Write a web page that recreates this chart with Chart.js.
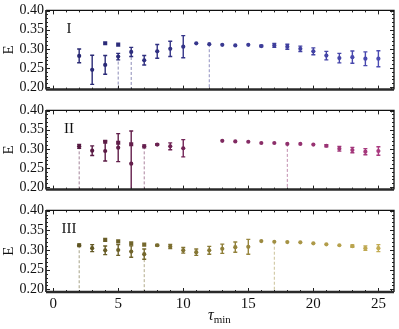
<!DOCTYPE html>
<html>
<head>
<meta charset="utf-8">
<script src="https://cdn.jsdelivr.net/npm/chart.js@4.4.1/dist/chart.umd.min.js"></script>
<style>
  html, body { margin: 0; padding: 0; background: #fff; }
  #wrap { position: relative; width: 399px; height: 329px; overflow: hidden; }
  #wrap canvas { position: absolute; left: 0; }
  #xlab { position: absolute; top: 306px; left: 208px; font-family: "Liberation Serif", serif; font-size: 16px; color: #111; white-space: nowrap; }
  #xlab i { font-style: italic; }
  #xlab sub { font-size: 11px; vertical-align: -3px; }
</style>
</head>
<body>
<div id="wrap">
  <canvas id="p1" width="399" height="100" style="top:0"></canvas>
  <canvas id="p2" width="399" height="100" style="top:100px"></canvas>
  <canvas id="p3" width="399" height="129" style="top:200px"></canvas>
  <div id="xlab"><i>τ</i><sub>min</sub></div>
</div>
<script>
// ─── DATA ──────────────────────────────────────────────────────────
const tau = [2, 3, 4, 5, 6, 7, 8, 9, 10, 11, 12, 13, 14, 15, 16, 17, 18, 19, 20, 21, 22, 23, 24, 25];
const xTicks = [0, 5, 10, 15, 20, 25];
const yTicks = [0.20, 0.25, 0.30, 0.35, 0.40];

// panel I
const eI   = [0.2815, 0.2452, 0.2581, 0.2798, 0.2919, 0.2702, 0.2935, 0.3000, 0.3056, 0.3145, 0.3121, 0.3105,
              0.3089, 0.3105, 0.3073, 0.3089, 0.3056, 0.3000, 0.2935, 0.2823, 0.2758, 0.2782, 0.2742, 0.2742];
const errI = [0.018, 0.038, 0.0246, 0.0085, 0.012, 0.0125, 0.018, 0.0198, 0.029, 0, 0, 0,
              0, 0, 0.002, 0.005, 0.0065, 0.007, 0.009, 0.011, 0.0125, 0.016, 0.018, 0.021];
const extraTauI = [4, 5];
const extraEI   = [0.3145, 0.3110];
const dashTauI  = [5, 6, 12];

// panel II
const eII   = [0.3065, 0.2952, 0.2944, 0.3032, 0.2613, 0.3065, 0.3113, 0.3065, 0.3016, null, null, 0.3210,
               0.3194, 0.3185, 0.3153, 0.3153, 0.3129, 0.3129, 0.3113, 0.3081, 0.3000, 0.2968, 0.2927, 0.2944];
const errII = [0.005, 0.0125, 0.026, 0.0367, 0.0855, 0.004, 0.002, 0.009, 0.0226, 0, 0, 0,
               0, 0, 0, 0, 0, 0, 0, 0.003, 0.006, 0.007, 0.008, 0.011];
const extraTauII = [4, 5, 6];
const extraEII   = [0.3185, 0.3161, 0.3121];
const dashTauII  = [2, 7, 18];

// panel III
const eIII   = [0.3121, 0.3048, 0.2992, 0.3000, 0.2960, 0.2895, 0.3121, 0.3089, 0.2992, 0.2944, 0.2992, 0.3032,
                0.3073, 0.3081, 0.3226, 0.3210, 0.3202, 0.3194, 0.3169, 0.3145, 0.3121, 0.3097, 0.3048, 0.3048];
const errIII = [0.003, 0.009, 0.011, 0.0137, 0.0145, 0.013, 0.002, 0.005, 0.007, 0.008, 0.010, 0.0117,
                0.013, 0.019, 0, 0, 0, 0, 0, 0, 0, 0.003, 0.0056, 0.009];
const extraTauIII = [4, 5, 6, 7];
const extraEIII   = [0.3258, 0.3218, 0.3169, 0.3137];
const dashTauIII  = [2, 7, 17];

const yMin = 0.1935, yMax = 0.4005;
const xMin = -0.55, xMax = 26.2;
const SERIF = '"Liberation Serif", "DejaVu Serif", serif';

// ─── HELPERS ──────────────────────────────────────────────────────
function shade(c0, c1, t, mix) {
    const c = c0.map((v, k) => v + (c1[k] - v) * t);
    const m = mix || 0;
    return 'rgb(' + c.map(v => Math.round(v + (255 - v) * m)).join(',') + ')';
}
function tOf(x) { return (x - tau[0]) / (tau[tau.length - 1] - tau[0]); }

// error bars, drawn from the dataset's own points and y scale
const errorBars = {
    id: 'errorBars',
    afterDatasetsDraw(chart) {
        const { ctx, chartArea: a, scales: { y } } = chart;
        ctx.save();
        ctx.beginPath();
        ctx.rect(a.left, a.top, a.right - a.left, a.bottom - a.top);
        ctx.clip();
        chart.data.datasets.forEach((ds, i) => {
            if (!ds.errors) return;
            const meta = chart.getDatasetMeta(i);
            meta.data.forEach((pt, j) => {
                const v = ds.data[j].y, e = ds.errors[j];
                if (v == null || !e) return;
                const y0 = y.getPixelForValue(v - e), y1 = y.getPixelForValue(v + e);
                ctx.strokeStyle = ds.pointBackgroundColor[j];
                ctx.lineWidth = 1.4;
                ctx.beginPath();
                ctx.moveTo(pt.x, y0); ctx.lineTo(pt.x, y1);
                ctx.moveTo(pt.x - 2, y0); ctx.lineTo(pt.x + 2, y0);
                ctx.moveTo(pt.x - 2, y1); ctx.lineTo(pt.x + 2, y1);
                ctx.stroke();
            });
        });
        ctx.restore();
    }
};

// frame with inward ticks, plus the panel numeral
const frame = {
    id: 'frame',
    afterDraw(chart) {
        const { ctx, chartArea: a, scales: { x, y } } = chart;
        ctx.save();
        ctx.strokeStyle = '#222';
        ctx.lineWidth = 1;
        ctx.beginPath();
        for (let t = 0; t <= 26; t++) {
            const px = Math.round(x.getPixelForValue(t)) + 0.5;
            const L = t % 5 === 0 ? 4 : 2;
            ctx.moveTo(px, a.bottom); ctx.lineTo(px, a.bottom - L);
            ctx.moveTo(px, a.top); ctx.lineTo(px, a.top + L);
        }
        for (let k = 20; k <= 40; k++) {
            const py = Math.round(y.getPixelForValue(k / 100)) + 0.5;
            const L = k % 5 === 0 ? 4 : 2;
            ctx.moveTo(a.left, py); ctx.lineTo(a.left + L, py);
            ctx.moveTo(a.right, py); ctx.lineTo(a.right - L, py);
        }
        ctx.stroke();

        ctx.strokeStyle = '#111';
        ctx.lineWidth = 1.3;
        ctx.beginPath();
        ctx.moveTo(a.left, a.top); ctx.lineTo(a.right, a.top); ctx.lineTo(a.right, a.bottom);
        ctx.stroke();
        ctx.strokeStyle = '#2a2a2a';
        ctx.lineWidth = 2.5;
        ctx.beginPath();
        ctx.moveTo(a.left, a.bottom); ctx.lineTo(a.right, a.bottom);
        ctx.stroke();
        ctx.lineWidth = 1.8;
        ctx.beginPath();
        ctx.moveTo(a.left, a.top - 0.5); ctx.lineTo(a.left, a.bottom);
        ctx.stroke();

        const lab = chart.options.plugins.frame.label;
        ctx.fillStyle = '#111';
        ctx.font = '15px ' + SERIF;
        ctx.textAlign = 'center';
        ctx.textBaseline = 'middle';
        ctx.fillText(lab, 69, a.top + 19);
        ctx.restore();
    }
};

function makePanel(id, vals, errs, exTau, exVals, dashTau, label, c0, c1, showX) {
    const datasets = [];
    dashTau.forEach(t => {
        const v = vals[tau.indexOf(t)];
        datasets.push({
            type: 'line',
            data: [{ x: t, y: v }, { x: t, y: yMin }],
            borderColor: shade(c0, c1, tOf(t), 0.45),
            borderWidth: 1,
            borderDash: [3, 2],
            pointRadius: 0,
            order: 3
        });
    });
    datasets.push({
        type: 'scatter',
        data: tau.map((t, i) => ({ x: t, y: vals[i] })),
        errors: errs,
        pointBackgroundColor: tau.map(t => shade(c0, c1, tOf(t))),
        pointBorderWidth: 0,
        pointRadius: 2.1,
        order: 1
    });
    datasets.push({
        type: 'scatter',
        data: exTau.map((t, i) => ({ x: t, y: exVals[i] })),
        pointBackgroundColor: exTau.map(t => shade(c0, c1, tOf(t))),
        pointBorderWidth: 0,
        pointStyle: 'rect',
        pointRadius: 2.9,
        order: 2
    });

    return new Chart(document.getElementById(id), {
        type: 'scatter',
        data: { datasets },
        plugins: [errorBars, frame],
        options: {
            responsive: false,
            animation: false,
            layout: { padding: { top: 5, right: 5, left: 0, bottom: showX ? 0 : 8 } },
            plugins: { legend: { display: false }, tooltip: { enabled: false }, frame: { label } },
            scales: {
                x: {
                    type: 'linear', min: xMin, max: xMax,
                    display: showX,
                    afterBuildTicks: s => { s.ticks = xTicks.map(v => ({ value: v })); },
                    afterFit: s => { s.height = showX ? 37 : 0; },
                    grid: { display: false, drawTicks: false },
                    border: { display: false },
                    ticks: { padding: 3, color: '#111', font: { family: SERIF, size: 15 }, maxRotation: 0, autoSkip: false }
                },
                y: {
                    type: 'linear', min: yMin, max: yMax,
                    afterBuildTicks: s => { s.ticks = yTicks.map(v => ({ value: v })); },
                    afterFit: s => { s.width = 46; },
                    grid: { display: false, drawTicks: false },
                    border: { display: false },
                    title: { display: true, text: 'E', color: '#111', font: { family: SERIF, size: 15 }, padding: 0 },
                    ticks: { padding: 2, color: '#111', font: { family: SERIF, size: 14 }, callback: v => v.toFixed(2) }
                }
            }
        }
    });
}

makePanel('p1', eI, errI, extraTauI, extraEI, dashTauI, 'I', [40, 40, 115], [75, 75, 178], false);
makePanel('p2', eII, errII, extraTauII, extraEII, dashTauII, 'II', [85, 25, 65], [170, 58, 128], false);
makePanel('p3', eIII, errIII, extraTauIII, extraEIII, dashTauIII, 'III', [95, 85, 35], [195, 172, 82], true);
</script>
</body>
</html>
